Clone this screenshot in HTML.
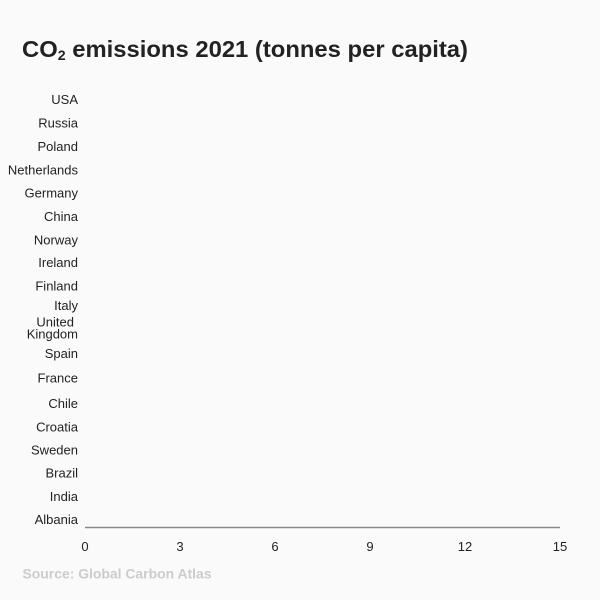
<!DOCTYPE html>
<html>
<head>
<meta charset="utf-8">
<style>
  html, body { margin: 0; padding: 0; background: #fafafa; }
  svg { display: block; }
  text { font-family: "Liberation Sans", Arial, sans-serif; }
</style>
</head>
<body>
<svg width="600" height="600" viewBox="0 0 600 600" xmlns="http://www.w3.org/2000/svg">
  <rect x="0" y="0" width="600" height="600" fill="#fafafa"/>
  <text x="22" y="57" font-size="23.5" font-weight="bold" fill="#222" textLength="446" lengthAdjust="spacingAndGlyphs">CO<tspan font-size="14" dy="3">2</tspan><tspan dy="-3"> emissions 2021 (tonnes per capita)</tspan></text>

  <g font-size="13" fill="#222" text-anchor="end">
    <text x="78" y="104">USA</text>
    <text x="78" y="127.7">Russia</text>
    <text x="78" y="151">Poland</text>
    <text x="78" y="174.3">Netherlands</text>
    <text x="78" y="197.7">Germany</text>
    <text x="78" y="220.8">China</text>
    <text x="78" y="244.5">Norway</text>
    <text x="78" y="267">Ireland</text>
    <text x="78" y="290.5">Finland</text>
    <text x="78" y="310">Italy</text>
    <text x="74" y="326.7">United</text>
    <text x="78" y="338.5">Kingdom</text>
    <text x="78" y="358">Spain</text>
    <text x="78" y="382.3">France</text>
    <text x="78" y="408">Chile</text>
    <text x="78" y="431.5">Croatia</text>
    <text x="78" y="454.5">Sweden</text>
    <text x="78" y="477.5">Brazil</text>
    <text x="78" y="501">India</text>
    <text x="78" y="524">Albania</text>
  </g>

  <line x1="85" y1="527.5" x2="560" y2="527.5" stroke="#888" stroke-width="1.5"/>

  <g font-size="13" fill="#222" text-anchor="middle">
    <text x="85" y="551">0</text>
    <text x="180" y="551">3</text>
    <text x="275" y="551">6</text>
    <text x="370" y="551">9</text>
    <text x="465" y="551">12</text>
    <text x="560" y="551">15</text>
  </g>

  <text x="22.5" y="578.5" font-size="14" font-weight="bold" fill="#cccccc" textLength="189" lengthAdjust="spacingAndGlyphs">Source: Global Carbon Atlas</text>
</svg>
</body>
</html>
